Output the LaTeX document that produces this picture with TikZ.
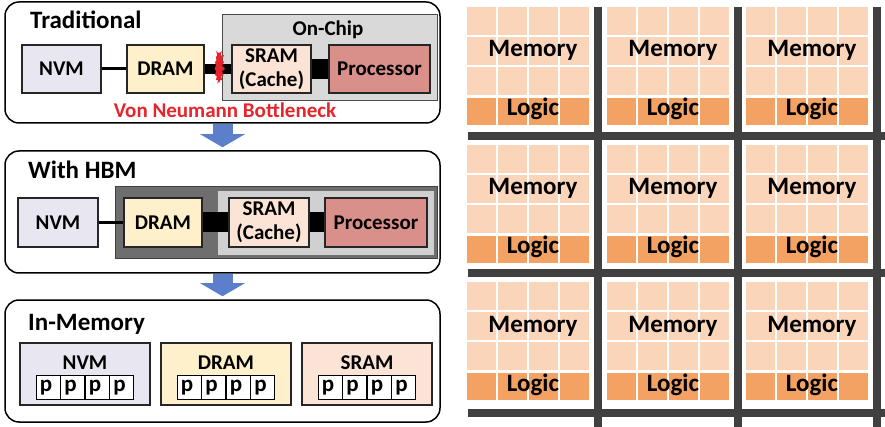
\documentclass[tikz,border=0pt]{standalone}
\usepackage{fontspec}
\setmainfont{Carlito}
\usetikzlibrary{arrows.meta, positioning, shapes.symbols, calc}
\definecolor{mNVM}{HTML}{E8E6F0}
\definecolor{mDRAM}{HTML}{FDF0CA}
\definecolor{mSRAM}{HTML}{FBE4D5}
\definecolor{mProc}{HTML}{D98F8A}
\definecolor{mChip}{HTML}{D9D9D9}
\definecolor{mHBM}{HTML}{6E6E6E}
\definecolor{mHBMin}{HTML}{D0D0D0}
\definecolor{mBlue}{HTML}{5B7FCA}
\definecolor{mRed}{HTML}{E5242B}
\definecolor{mMem}{HTML}{FAD5B9}
\definecolor{mLogic}{HTML}{F3A263}
\definecolor{mGrid}{HTML}{404040}

\tikzset{
  panel/.style={draw, line width=1.5pt, rounded corners=14pt, minimum width=435pt, inner sep=0pt},
  title/.style={anchor=base west, inner sep=0pt, font=\fontsize{25}{30}\selectfont\bfseries},
  lbl/.style={inner sep=0pt, align=center, font=\fontsize{21}{24}\selectfont\bfseries},
  unit/.style={lbl, draw=black!85, line width=1.2pt},
  chip/.style={draw=black!70, line width=1pt, inner sep=0pt},
  bus/.style={line width=#1, black},
  flow/.style={line width=20pt, mBlue, -{Triangle[width=44pt, length=13pt]}, shorten >=3pt},
  pbox/.style={draw, line width=1.4pt, fill=white, inner sep=0pt, minimum width=24pt,
    minimum height=24pt, font=\fontsize{23}{24}\selectfont\bfseries},
  tileTxt/.style={anchor=base, inner sep=0pt, font=\fontsize{25}{30}\selectfont\bfseries},
  grid/.style={line width=8.5pt, mGrid}
}

\begin{document}
\begin{tikzpicture}[x=1pt, y=-1pt]
  \useasboundingbox (0,0) rectangle (885,427);

  % three system panels
  \node[panel, minimum height=121pt] (trad) at (222.5,62.5) {};
  \node[panel, minimum height=122pt] (hbm) at (222.5,212) {};
  \node[panel, minimum height=122pt] (inmem) at (222.5,361) {};
  \node[title] (tradT) at (30,29) {Traditional};
  \node[title] (hbmT) at (28,179) {With HBM};
  \node[title] (inmemT) at (28,330) {In-Memory};
  \draw[flow] (trad) -- (hbm);
  \draw[flow] (hbm) -- (inmem);

  % traditional
  \node[chip, fill=mChip, minimum width=215pt, minimum height=86pt] (chipA) at (329.5,58) {};
  \node[lbl] (chipT) at (328,30) {On-Chip};
  \node[unit, fill=mNVM, minimum width=79pt, minimum height=48pt] (nvmA) at (61.5,69) {NVM};
  \node[unit, fill=mDRAM, minimum width=77pt, minimum height=48pt] (dramA) at (165.5,69) {DRAM};
  \node[unit, fill=mSRAM, minimum width=79pt, minimum height=48pt] (sramA) at (271.5,69) {SRAM\\(Cache)};
  \node[unit, fill=mProc, minimum width=101pt, minimum height=48pt] (procA) at (379.5,69) {Processor};
  \draw[bus=3pt] (nvmA) -- (dramA);
  \draw[bus=10pt] (dramA) -- (sramA);
  \draw[bus=20pt] (sramA) -- (procA);
  \node[starburst, random starburst, starburst points=15, starburst point height=4pt,
        fill=mRed, inner sep=0pt, minimum width=14pt, minimum height=36pt] (neck) at (219,67) {};
  \node[lbl, text=mRed, anchor=base] (neckT) at (225,118) {Von Neumann Bottleneck};

  % with HBM
  \node[chip, draw=black!75, fill=mHBM, minimum width=322pt, minimum height=72pt] (stackB) at (276,223) {};
  \node[chip, draw=none, fill=mHBMin, minimum width=216pt, minimum height=64pt] (chipB) at (326,223) {};
  \node[unit, fill=mNVM, minimum width=80pt, minimum height=49pt] (nvmB) at (58,222.5) {NVM};
  \node[unit, fill=mDRAM, minimum width=78pt, minimum height=49pt] (dramB) at (163,222.5) {DRAM};
  \node[unit, fill=mSRAM, minimum width=80pt, minimum height=49pt] (sramB) at (269,222.5) {SRAM\\(Cache)};
  \node[unit, fill=mProc, minimum width=102pt, minimum height=49pt] (procB) at (376,222.5) {Processor};
  \draw[bus=3pt] (nvmB) -- (dramB);
  \draw[bus=20pt] (dramB) -- (sramB);
  \draw[bus=20pt] (sramB) -- (procB);

  % in-memory
  \foreach \m/\cx/\col/\txt in {nvmC/85/mNVM/NVM, dramC/226/mDRAM/DRAM, sramC/367/mSRAM/SRAM} {
    \node[unit, fill=\col, minimum width=130pt, minimum height=62pt] (\m) at (\cx,374) {};
    \node[lbl] (\m T) at (\cx,362.5) {\txt};
    \foreach \k in {0,...,3}
      \node[pbox] (\m p\k) at (\cx-36.75+\k*24.5,387.5) {\makebox[17pt][l]{p}};
  }

  % memory/logic tiles
  \foreach \cx [count=\c] in {467,607,746} \foreach \cy [count=\r] in {7,145,282} {
    \foreach \i in {0,...,3} {
      \foreach \j in {0,1,2}
        \fill[mMem] (\cx+\i*31,\cy+\j*30.2) rectangle ++(28.7,27.7);
      \fill[mLogic] (\cx+\i*31,\cy+90.6) rectangle ++(28.7,27.7);
    }
    \node[tileTxt] (mem\c\r) at (\cx+66,\cy+50) {Memory};
    \node[tileTxt] (logic\c\r) at (\cx+66,\cy+109) {Logic};
  }
  \foreach \gx in {598,738,877}
    \draw[grid] (\gx,7) -- (\gx,427);
  \foreach \gy in {136,273,413}
    \draw[grid] (468,\gy) -- (885,\gy);
\end{tikzpicture}
\end{document}
